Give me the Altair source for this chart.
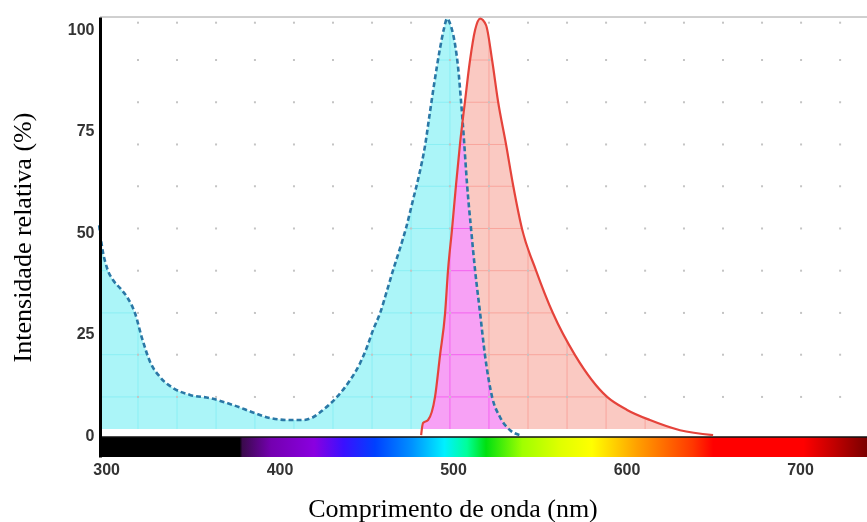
import altair as alt
import pandas as pd

# ---------------- data ----------------
# Excitation spectrum (blue dashed curve, cyan fill): wavelength nm / relative intensity %
ex_nm = [296.0, 297.7, 300.6, 304.0, 308.1, 312.1, 316.7, 320.7, 325.4, 331.1,
         338.6, 348.4, 359.9, 373.2, 385.9, 394.5, 406.1, 413.5, 419.3, 425.1,
         433.1, 440.6, 446.4, 450.4, 453.9, 457.9, 462.0, 465.4, 469.5, 472.9,
         476.9, 480.4, 483.9, 486.7, 489.0, 492.5, 494.8, 496.5, 498.8, 501.2,
         502.9, 504.6, 506.3, 508.1, 510.4, 512.7, 515.6, 518.4, 522.5, 527.1,
         532.9, 538.6]
ex_val = [51.7, 46.3, 41.1, 38.2, 36.2, 34.0, 30.0, 23.9, 18.0, 14.3,
          11.6, 9.9, 9.1, 7.4, 5.4, 4.2, 3.7, 3.7, 4.4, 6.2,
          9.4, 13.5, 17.7, 21.7, 25.9, 30.0, 35.7, 40.6, 46.1, 51.0,
          57.9, 64.0, 71.4, 79.6, 86.2, 95.3, 100.2, 102.6, 100.7, 96.1,
          90.6, 82.3, 72.7, 61.6, 50.7, 40.6, 30.0, 19.7, 9.4, 4.4,
          1.2, 0.0]

# Emission spectrum (red solid curve, salmon fill)
em_nm = [481.6, 482.7, 485.6, 489.6, 492.5, 495.4, 497.1, 499.4, 501.7, 504.0,
         506.9, 509.8, 512.7, 515.6, 519.0, 522.5, 525.9, 530.5, 534.6, 539.8,
         547.8, 557.6, 570.3, 588.8, 600.3, 613.5, 630.8, 649.9]
em_val = [0.0, 3.0, 3.7, 9.4, 19.7, 30.0, 40.6, 50.7, 61.6, 71.7,
          82.3, 92.4, 99.8, 102.6, 101.0, 92.4, 82.3, 71.7, 61.6, 50.7,
          40.6, 30.0, 19.7, 9.4, 6.2, 3.7, 1.2, 0.0]

# Overlap of both spectra (magenta fill)
ov_nm = [481.6, 482.7, 485.6, 489.6, 492.5, 495.4, 497.1, 499.4, 501.7, 504.0,
         505.5, 506.3, 508.1, 510.4, 512.7, 515.6, 518.4, 522.5, 527.1, 532.9,
         538.6]
ov_val = [0.0, 3.0, 3.7, 9.4, 19.7, 30.0, 40.6, 50.7, 61.6, 71.7,
          77.1, 72.7, 61.6, 50.7, 40.6, 30.0, 19.7, 9.4, 4.4, 1.2,
          0.0]

# Background grid positions
grid_x = [318.4, 340.9, 363.4, 385.8, 408.3, 430.8, 453.3, 475.8, 498.2, 520.7,
          543.2, 565.7, 588.2, 610.7, 633.1, 655.6, 678.1, 700.6, 723.1]
grid_y = [9.4, 19.8, 30.1, 40.5, 50.9, 61.3, 71.6, 82.0, 92.4]
grid_y_dots = grid_y + [101.6]

# Axis ticks
x_ticks = [300, 400, 500, 600, 700]
y_ticks = [0, 25, 50, 75, 100]

# Visible-spectrum colour bar stops (nm, colour)
spec_nm = [296.5, 377.0, 378.5, 395.0, 420.0, 437.0, 455.0, 476.0, 495.0, 508.0,
           519.0, 540.0, 562.0, 580.0, 606.0, 638.0, 650.0, 702.0, 720.0, 738.6]
spec_col = ["#000000", "#000000", "#3a0a4c", "#7400b0", "#8a00e0", "#3a10ff",
            "#0040ff", "#0090ff", "#00f0ff", "#00ff9a", "#00e010", "#a0ff00",
            "#e0ff00", "#ffff00", "#ffa000", "#ff3800", "#ff0000", "#ff0000",
            "#c00000", "#7a0000"]

X_DOMAIN = [296.5, 738.6]
Y_DOMAIN = [-5.4, 103.0]
BASE = 1.5          # fill baseline
BAR = [-5.4, -0.5]  # colour bar extent (y)

# ---------------- tables ----------------
ex_df = pd.DataFrame({"nm": ex_nm, "v": ex_val})
em_df = pd.DataFrame({"nm": em_nm, "v": em_val})
ov_df = pd.DataFrame({"nm": ov_nm, "v": ov_val})
gx_df = pd.DataFrame({"gx": grid_x})
gy_df = pd.DataFrame({"gy": grid_y})
dots_df = pd.DataFrame([(a, b) for a in grid_x for b in grid_y_dots], columns=["gx", "gy"])
one = pd.DataFrame({"k": [0]})

xs = alt.Scale(domain=X_DOMAIN, nice=False, zero=False)
ys = alt.Scale(domain=Y_DOMAIN, nice=False, zero=False)

x_axis = alt.Axis(values=x_ticks, title="Comprimento de onda (nm)", ticks=False,
                  domain=False, grid=False, labelFont="Liberation Sans",
                  labelFontWeight="bold", labelFontSize=16, labelColor="#333333",
                  labelPadding=4, titleFont="Liberation Serif", titleFontSize=26,
                  titleFontWeight="normal", titleColor="#000000", titleX=352.5,
                  titleY=51, titleAlign="center", titleBaseline="middle", zindex=2)
y_axis = alt.Axis(values=y_ticks, title="Intensidade relativa (%)", ticks=False,
                  domain=True, domainColor="#000000", domainWidth=3, grid=False,
                  labelFont="Liberation Sans", labelFontWeight="bold",
                  labelFontSize=16, labelColor="#333333", labelPadding=6,
                  titleFont="Liberation Serif", titleFontSize=26,
                  titleFontWeight="normal", titleColor="#000000", titleX=-78,
                  titleY=220, titleAngle=-90, titleAlign="center",
                  titleBaseline="middle", zindex=2)


def X(field):
    return alt.X(field, type="quantitative", scale=xs, axis=x_axis)


def Y(field):
    return alt.Y(field, type="quantitative", scale=ys, axis=y_axis)


def XD(v):
    return alt.XDatum(v, type="quantitative", scale=xs, axis=x_axis)


def YD(v):
    return alt.YDatum(v, type="quantitative", scale=ys, axis=y_axis)


def area_layer(df, color):
    return alt.Chart(df).transform_calculate(
        fy=f"max(datum.v, {BASE})"
    ).mark_area(color=color, interpolate="monotone").encode(
        x=X("nm"),
        y=Y("fy"),
        y2=alt.Y2Datum(BASE),
    )


cyan = area_layer(ex_df, "#abf5f8")
pink = area_layer(em_df, "#fac9c2")
magenta = area_layer(ov_df, "#f7a1f5")

vlines = alt.Chart(gx_df).mark_rule(color="#b8999e", strokeWidth=1, blend="color-burn").encode(
    x=X("gx"),
    y=YD(BASE),
    y2=alt.Y2Datum(Y_DOMAIN[1]),
)
hlines = alt.Chart(gy_df).mark_rule(color="#b8999e", strokeWidth=1, blend="color-burn").encode(
    y=Y("gy"),
    x=XD(X_DOMAIN[0]),
    x2=alt.X2Datum(X_DOMAIN[1]),
)
dots = alt.Chart(dots_df).mark_square(size=4, color="#c4c4c4", opacity=1).encode(
    x=X("gx"),
    y=Y("gy"),
)

span = X_DOMAIN[1] - X_DOMAIN[0]
stops = [alt.GradientStop(offset=min(1.0, max(0.0, (n - X_DOMAIN[0]) / span)), color=c)
         for n, c in zip(spec_nm, spec_col)]
bar = alt.Chart(one).mark_rect(
    color=alt.Gradient(gradient="linear", stops=stops, x1=0, x2=1, y1=0, y2=0)
).encode(
    x=XD(X_DOMAIN[0]),
    x2=alt.X2Datum(X_DOMAIN[1]),
    y=YD(BAR[0]),
    y2=alt.Y2Datum(BAR[1]),
)
bar_edge = alt.Chart(one).mark_rule(color="#111111", strokeWidth=1.5).encode(
    y=YD(BAR[1]),
)
top_edge = alt.Chart(one).mark_rule(color="#a0a0a0", strokeWidth=1).encode(
    y=YD(Y_DOMAIN[1]),
)

ex_line = alt.Chart(ex_df).mark_line(color="#2a78a6", strokeWidth=2.6,
                                     strokeDash=[5, 3], interpolate="monotone").encode(
    x=X("nm"),
    y=Y("v"),
)
em_line = alt.Chart(em_df).mark_line(color="#e5433b", strokeWidth=2.2,
                                     interpolate="monotone").encode(
    x=X("nm"),
    y=Y("v"),
)

chart = alt.layer(
    cyan, pink, magenta, vlines, hlines, dots, bar, bar_edge, top_edge, ex_line, em_line
).properties(
    width=767, height=440,
    autosize=alt.AutoSizeParams(type="none"),
    padding={"left": 100, "top": 17, "right": 0, "bottom": 65},
    background="#ffffff",
).configure_view(stroke=None)

chart.save("out.html", embed_options={"renderer": "svg", "actions": False})
